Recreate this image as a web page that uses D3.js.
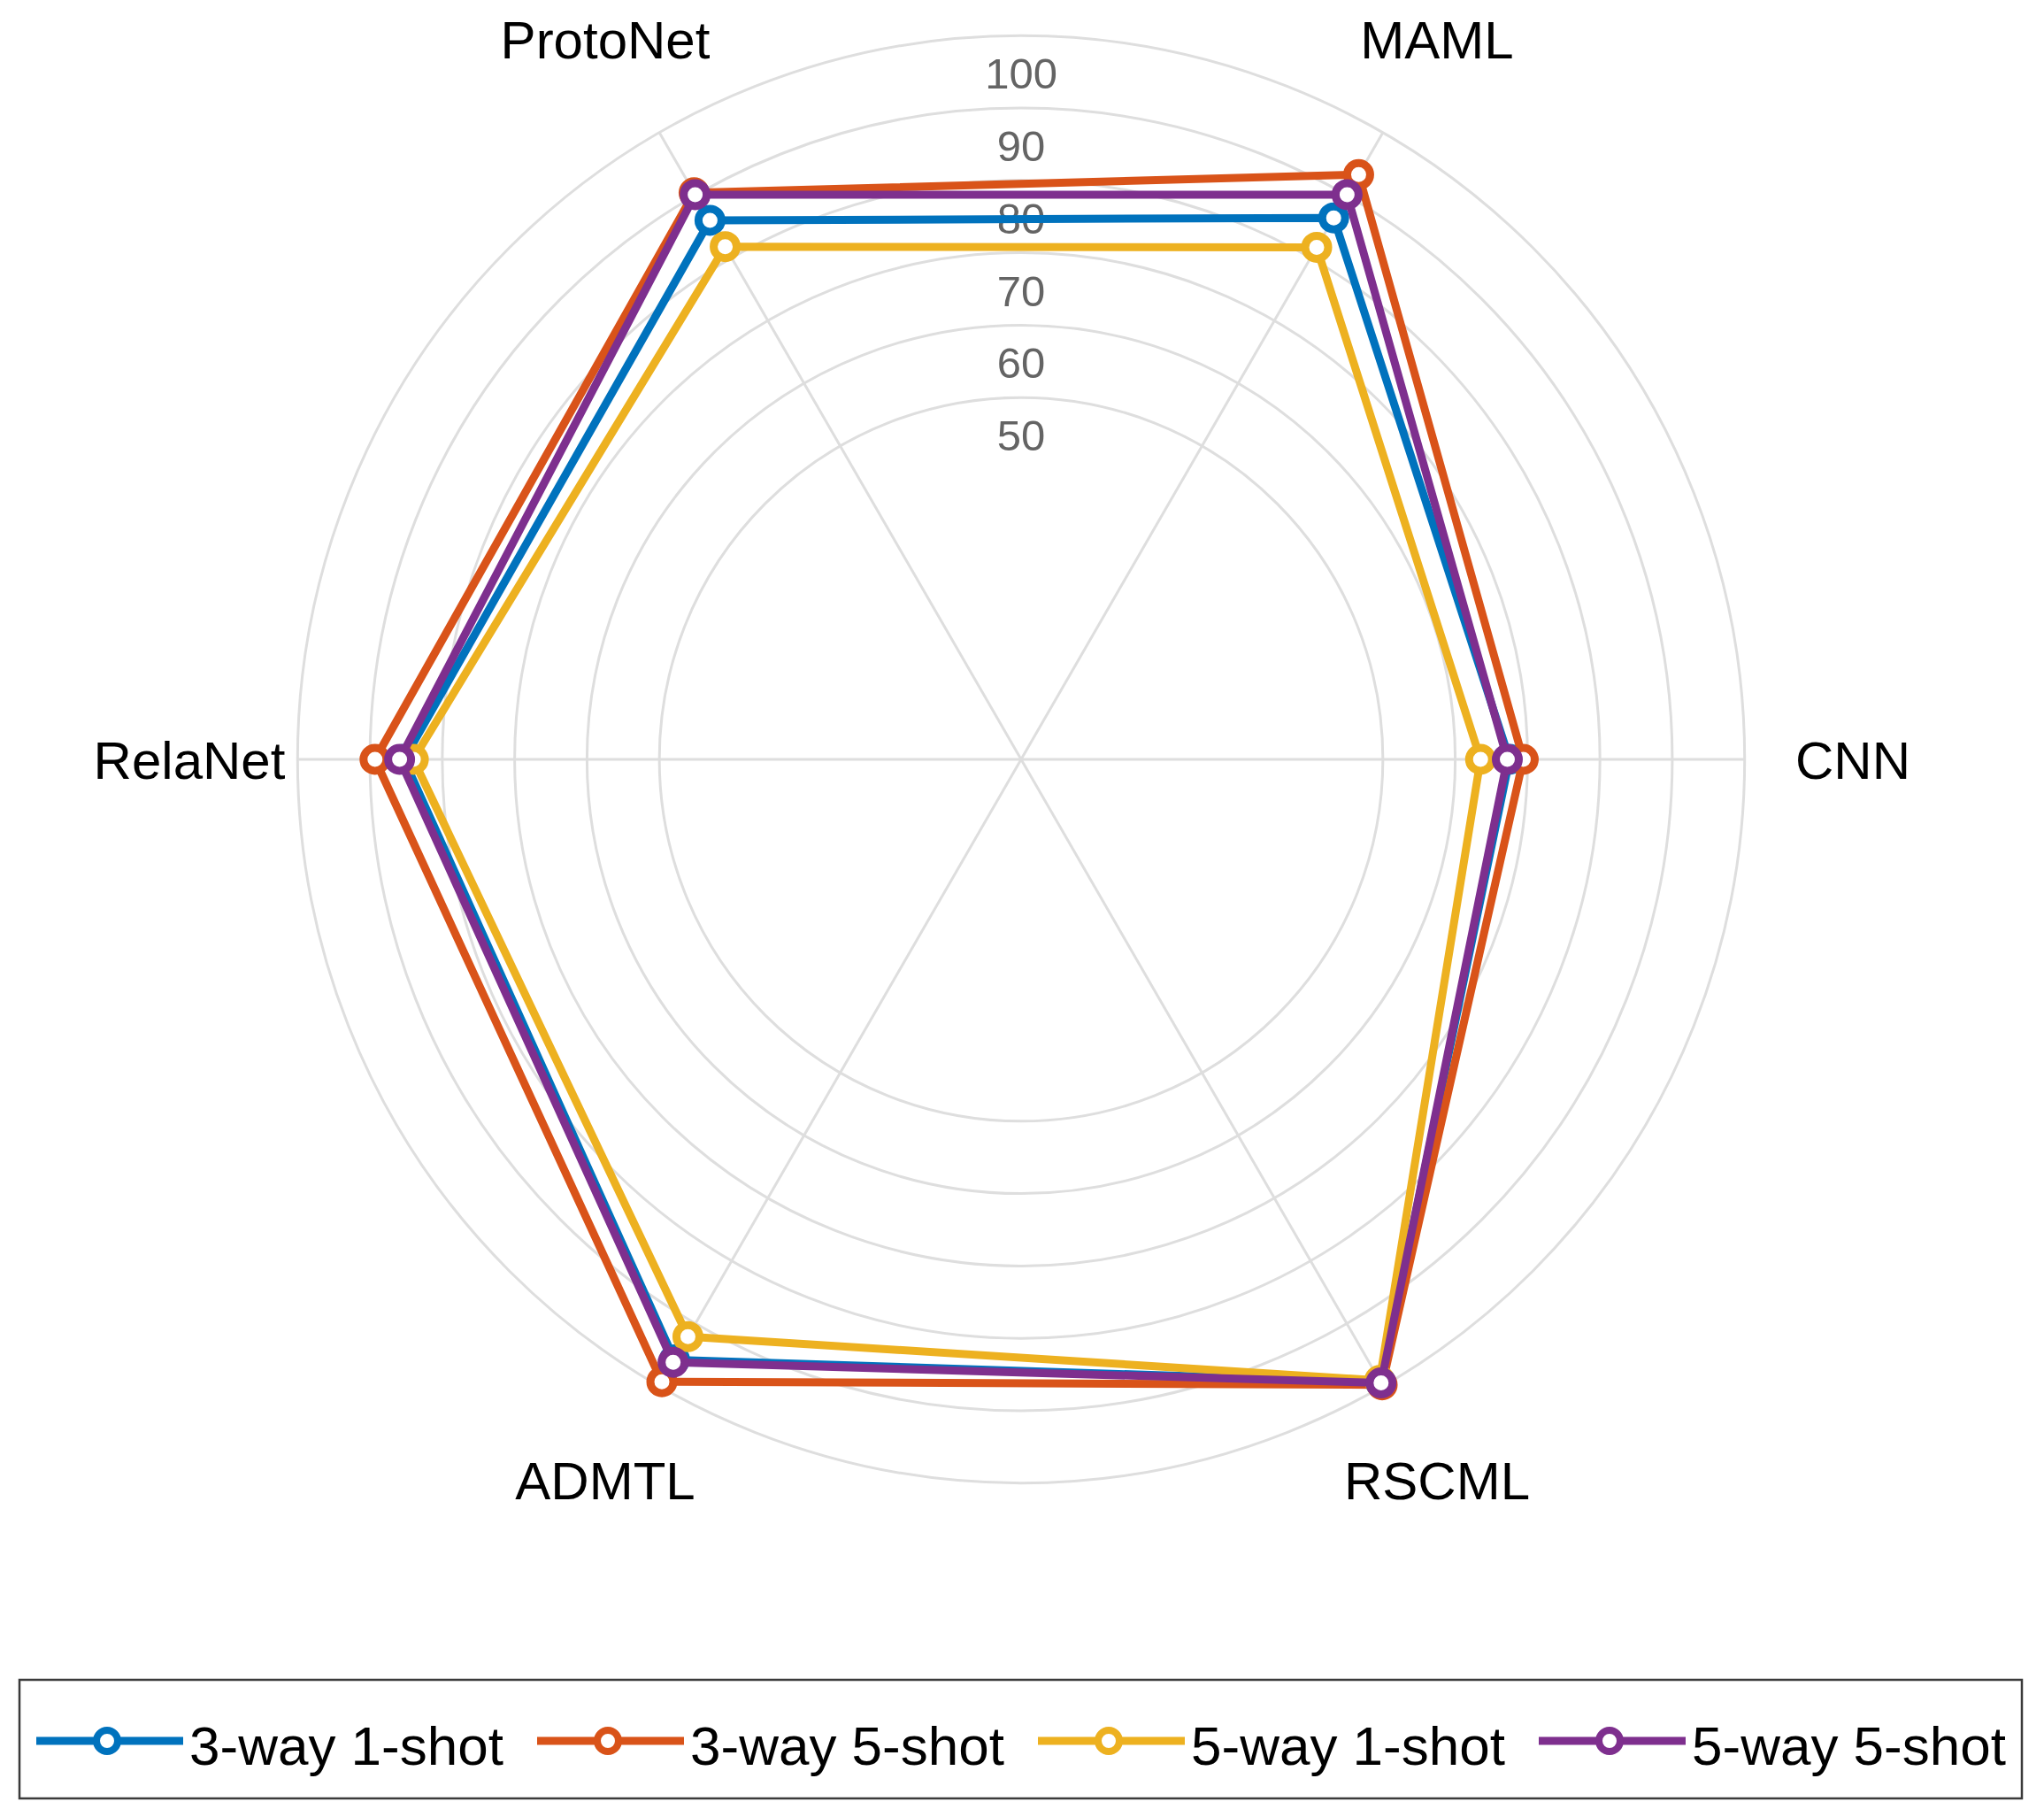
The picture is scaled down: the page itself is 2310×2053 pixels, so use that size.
<!DOCTYPE html>
<html><head><meta charset="utf-8">
<script src="https://cdn.jsdelivr.net/npm/d3@7"></script>
<style>html,body{margin:0;padding:0;background:#fff;}svg{display:block;font-family:"Liberation Sans",Arial,sans-serif;}</style>
</head><body>
<script>
const categories = ["CNN","MAML","ProtoNet","RelaNet","ADMTL","RSCML"];
const seriesNames = ["3-way 1-shot","3-way 5-shot","5-way 1-shot","5-way 5-shot"];
const s3way1shot = [67.5, 86.4, 86.0, 85.3, 95.8, 99.4];
const s3way5shot = [69.4, 93.3, 90.4, 89.3, 99.3, 99.8];
const s5way1shot = [63.5, 81.7, 81.8, 84.0, 92.1, 99.1];
const s5way5shot = [67.2, 90.1, 90.1, 85.9, 96.2, 99.5];
const ringTicks = [50,60,70,80,90,100];
const colors = ["#0072BD","#D95319","#EDB120","#7E2F8E"];

const series = [s3way1shot, s3way5shot, s5way1shot, s5way5shot];
const W = 2310, H = 2053, cx = 1154, cy = 858;
const r = d3.scaleLinear().domain([0,100]).range([0,817.7]);
const ang = d3.scalePoint().domain(categories.concat(["_end"])).range([Math.PI/2, Math.PI/2 - 2*Math.PI]);

const svg = d3.select("body").append("svg").attr("width",W).attr("height",H);
svg.append("rect").attr("width",W).attr("height",H).attr("fill","#fff");
const g = svg.append("g").attr("transform",`translate(${cx},${cy})`);

// rings
g.selectAll("circle.ring").data(ringTicks).join("circle")
  .attr("class","ring").attr("r",d=>r(d)).attr("fill","none")
  .attr("stroke","#dedede").attr("stroke-width",3);
// spokes
g.selectAll("line.spoke").data(categories).join("line")
  .attr("x1",0).attr("y1",0)
  .attr("x2",d=>r(100)*Math.sin(ang(d))).attr("y2",d=>-r(100)*Math.cos(ang(d)))
  .attr("stroke","#dedede").attr("stroke-width",3);
// ring labels
g.selectAll("text.rl").data(ringTicks).join("text")
  .attr("x",0).attr("y",d=>-r(d)+43+17)
  .attr("text-anchor","middle").attr("font-size",49).attr("fill","#646464")
  .text(d=>d);
// category labels
g.selectAll("text.cat").data(categories).join("text")
  .attr("x",d=>940*Math.sin(ang(d))).attr("y",d=>-940*Math.cos(ang(d))+22)
  .attr("text-anchor","middle").attr("font-size",60).attr("fill","#000")
  .text(d=>d);

const line = d3.lineRadial().angle((d,i)=>ang(categories[i])).radius(d=>r(d)).curve(d3.curveLinearClosed);
series.forEach((s,k)=>{
  const sg = g.append("g");
  sg.append("path").attr("d",line(s)).attr("fill","none")
    .attr("stroke",colors[k]).attr("stroke-width",9).attr("stroke-linejoin","round");
  sg.selectAll("circle").data(s).join("circle")
    .attr("cx",(d,i)=>r(d)*Math.sin(ang(categories[i])))
    .attr("cy",(d,i)=>-r(d)*Math.cos(ang(categories[i])))
    .attr("r",13).attr("fill","#fff").attr("stroke",colors[k]).attr("stroke-width",9);
});

// legend
const lg = svg.append("g");
lg.append("rect").attr("x",22).attr("y",1898).attr("width",2263).attr("height",134)
  .attr("fill","#fff").attr("stroke","#3a3a3a").attr("stroke-width",2.5);
const itemX = d3.scaleLinear().domain([0,1]).range([41,607]);
seriesNames.forEach((n,k)=>{
  const x0 = itemX(k), y0 = 1967;
  lg.append("line").attr("x1",x0).attr("x2",x0+166).attr("y1",y0).attr("y2",y0)
    .attr("stroke",colors[k]).attr("stroke-width",9);
  lg.append("circle").attr("cx",x0+80).attr("cy",y0).attr("r",12)
    .attr("fill","#fff").attr("stroke",colors[k]).attr("stroke-width",8);
  lg.append("text").attr("x",x0+173).attr("y",1994).attr("font-size",62)
    .attr("fill","#000").text(n);
});
</script>
</body></html>
